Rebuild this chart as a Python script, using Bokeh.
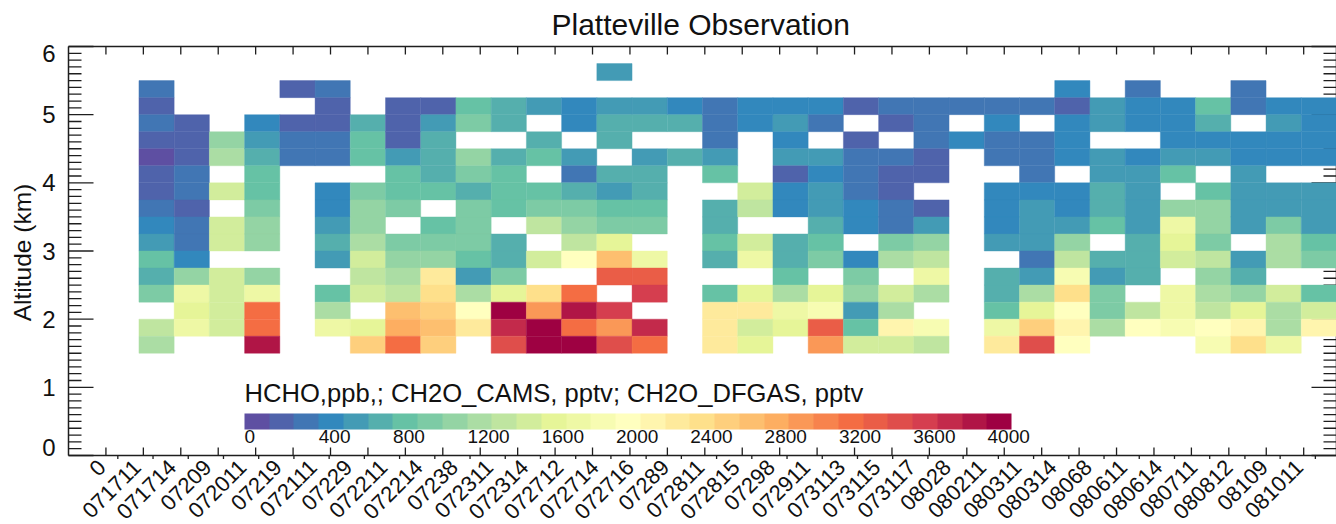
from bokeh.plotting import figure
from bokeh.models import (ColumnDataSource, LinearColorMapper, LinearAxis, FixedTicker, Range1d,
                          ColorBar, Label)
from bokeh.transform import transform
from bokeh.embed import file_html
from bokeh.resources import INLINE
import math

_ = None
TITLE = "Platteville Observation"
YLABEL = "Altitude (km)"
BAR_TITLE = "HCHO,ppb,; CH2O_CAMS, pptv; CH2O_DFGAS, pptv"
FONT = "Liberation Sans"
x_tick_labels = ["0", "071711", "071714", "07209", "072011", "07219", "072111", "07229", "072211", "072214",
                 "07238", "072311", "072314", "072712", "072714", "072716", "07289", "072811", "072815",
                 "07298", "072911", "073113", "073115", "073117", "08028", "080211", "080311", "080314",
                 "08068", "080611", "080614", "080711", "080812", "08109", "081011"]
bar_ticks = [0, 400, 800, 1200, 1600, 2000, 2400, 2800, 3200, 3600, 4000]
y_ticks = [0, 1, 2, 3, 4, 5, 6]
# lower edge of each altitude bin (km), top to bottom
alt_bins = [5.5, 5.25, 5.0, 4.75, 4.5, 4.25, 4.0, 3.75, 3.5, 3.25, 3.0, 2.75, 2.5, 2.25, 2.0, 1.75, 1.5]

# CH2O (pptv) per flight/time, top bin first
p_071711 = [_,320,190,320,190,60,190,190,320,450,580,840,710,970,_,1350,1230]
p_071714 = [_,_,_,190,190,190,320,320,190,320,320,450,1100,1740,1610,1740,_]
p_07209  = [_,_,_,_,1100,1230,_,1480,_,1480,1480,_,1480,1480,1480,1480,_]
p_072011 = [_,_,_,450,580,710,840,840,970,1100,1100,_,1100,1740,3160,3160,3810]
p_07219  = [_,190,_,190,320,320,_,_,_,_,_,_,_,_,_,_,_]
p_072111 = [_,320,190,190,320,320,_,450,450,580,710,580,_,840,1230,1740,_]
p_07229  = [_,_,_,710,840,840,_,970,1100,1100,1230,1480,1350,1480,_,1610,2520]
p_072211 = [_,_,190,190,190,580,840,840,970,_,970,1100,1230,1350,2650,2770,3160]
p_072214 = [_,_,190,580,710,710,710,840,_,840,970,1100,2260,2390,2520,2650,2520]
p_07238  = [_,_,840,970,_,1100,970,710,970,970,970,840,580,1230,2000,2260,_]
p_072311 = [_,_,710,710,_,710,840,840,840,_,710,710,970,1610,3940,3680,3420]
p_072314 = [_,_,580,_,710,840,_,840,970,1350,_,1480,_,2390,2900,3940,3940]
p_072712 = [_,_,450,450,_,580,320,710,970,1100,1350,2000,_,3160,3810,3160,3940]
p_072714 = [580,_,580,710,710,_,710,580,840,970,1610,2650,3290,_,3550,2900,3420]
p_072716 = [_,_,580,710,_,580,710,710,840,970,_,1740,3290,3550,_,3680,3160]
p_07289  = [_,_,450,710,_,710,_,_,_,_,_,_,_,_,_,_,_]
p_072811 = [_,_,320,320,320,580,840,_,710,710,840,710,_,840,2260,2260,2260]
p_072815 = [_,_,450,450,_,_,_,1480,1350,_,1480,1740,_,1610,2260,1480,1610]
p_07298  = [_,_,450,580,450,580,190,450,450,_,710,710,840,1230,1740,1610,_]
p_072911 = [_,_,450,320,_,580,450,580,580,710,840,970,_,1610,1870,3290,2900]
p_073113 = [_,_,190,_,190,320,320,320,450,450,_,450,970,1100,580,840,1480]
p_073115 = [_,_,320,190,_,320,190,190,320,320,970,1230,_,1480,1230,2130,1480]
p_073117 = [_,_,320,320,320,190,190,_,190,580,1100,1350,1740,1230,_,1870,1350]
p_08028  = [_,_,320,_,450,_,_,_,_,_,_,_,_,_,_,_,_]
p_080211 = [_,_,320,450,320,320,_,450,450,450,580,_,710,710,840,1740,2260]
p_080311 = [_,_,320,_,320,320,320,450,580,580,580,320,580,1230,1610,2520,3420]
p_080314 = [_,450,190,450,450,450,_,450,450,580,1100,1350,1870,2390,2000,2130,2000]
p_08068  = [_,_,580,580,_,580,580,710,710,840,_,710,580,970,970,1230,_]
p_080611 = [_,320,450,450,_,450,580,580,580,580,710,710,710,_,1350,2000,_]
p_080614 = [_,_,450,450,450,580,840,_,1100,1740,1610,1480,_,1740,1740,1870,_]
p_080711 = [_,_,840,710,450,580,_,840,1100,1100,970,1350,1100,1230,1350,2000,1870]
p_080812 = [_,320,320,_,450,450,580,580,580,580,_,580,710,1100,1610,2130,2390]
p_08109  = [_,_,450,580,450,450,_,580,580,970,1230,1230,_,1480,1230,1230,1740]
p_081011 = [_,_,450,450,450,450,_,580,580,580,840,970,_,840,1480,2130,_]

columns = [p_071711, p_071714, p_07209, p_072011, p_07219, p_072111, p_07229, p_072211, p_072214, p_07238,
           p_072311, p_072314, p_072712, p_072714, p_072716, p_07289, p_072811, p_072815, p_07298, p_072911,
           p_073113, p_073115, p_073117, p_08028, p_080211, p_080311, p_080314, p_08068, p_080611, p_080614,
           p_080711, p_080812, p_08109, p_081011]

palette = ["#5e4fa2", "#4f63ab", "#4176b4", "#3288bd", "#439bb5", "#55afad", "#66c2a5", "#7dcba5", "#94d4a4",
           "#abdda4", "#bfe5a0", "#d2ed9c", "#e6f598", "#eef8a5", "#f7fcb2", "#ffffbf", "#fff5ae", "#feea9c",
           "#fee08b", "#fecf7d", "#fdbf6f", "#fdae61", "#fa9857", "#f7834d", "#f46d43", "#ea5d47", "#df4e4b",
           "#d53e4f", "#c32a4b", "#b01546", "#9e0142"]

# box of the axes on the page, and the slightly larger drawing frame that lets the
# box's own lines and the short outer ticks show
BL, BR, BT, BB = 68, 1336, 46, 455
X0, X1 = -1.4, 34.6
Y0, Y1 = 0, 6
dx = (X1 - X0) / (BR - BL)
dy = (Y1 - Y0) / (BB - BT)
FL, FR, FT, FB = BL - 2, BR, BT - 2, BB + 5
px_x = lambda px: X0 + (px - BL) * dx
px_y = lambda py: Y1 - (py - BT) * dy
AXC = "#1e1e1e"

p = figure(width=1336, height=524, output_backend="svg", toolbar_location=None,
           x_range=Range1d(px_x(FL), px_x(FR)), y_range=Range1d(px_y(FB), px_y(FT)),
           x_axis_location=None, y_axis_location=None, tools="",
           frame_width=FR - FL, frame_height=FB - FT,
           min_border_left=FL, min_border_right=0, min_border_top=FT, min_border_bottom=0,
           outline_line_color=None,
           background_fill_color="white", border_fill_color="white")
p.grid.visible = False

left, right, bottom, top, val = [], [], [], [], []
for i, col in enumerate(columns):
    for a, v in zip(alt_bins, col):
        if v is None:
            continue
        left.append(i + 1 - 0.4)
        right.append(i + 1 + 0.6)
        bottom.append(a)
        top.append(a + 0.25)
        val.append(v)
src = ColumnDataSource(dict(left=left, right=right, bottom=bottom, top=top, val=val))
mapper = LinearColorMapper(palette=palette, low=0, high=4000)

minor = [k / 10 for k in range(0, 61) if k % 10]
TW = 1.3
def ticks(x0, x1, y0, y1, **kw):
    p.segment(x0=x0, x1=x1, y0=y0, y1=y1, line_color=AXC, line_width=kw.pop("w", TW), level="underlay", **kw)

n, m = len(y_ticks), len(minor)
# box lines
ticks([X0, X0], [X1, X1], [Y0, Y1], [Y0, Y1], w=1.5)
ticks([X0, X1], [X0, X1], [Y0, Y0], [Y1, Y1], w=1.5)
# left and right ticks
ticks([X0] * n, [X0 + 25 * dx] * n, y_ticks, y_ticks)
ticks([X0] * m, [X0 + 13 * dx] * m, minor, minor)
ticks([X1] * n, [X1 - 25 * dx] * n, y_ticks, y_ticks)
ticks([X1] * m, [X1 - 13 * dx] * m, minor, minor)
# top and bottom inner ticks have a spacing of their own
p.extra_x_ranges["tickx"] = Range1d((FL - BL) / 37.43, (FR - BL) / 37.43)
inner = list(range(1, 34))
k = len(inner)
ticks(inner, inner, [Y1] * k, [Y1 - 8 * dy] * k, x_range_name="tickx")
ticks(inner, inner, [Y0] * k, [Y0 + 8 * dy] * k, x_range_name="tickx")
# short outer ticks at the label positions
lab_idx = list(range(len(x_tick_labels)))
ticks(lab_idx, lab_idx, [Y0] * len(lab_idx), [Y0 - 3.5 * dy] * len(lab_idx))

p.quad(left="left", right="right", bottom="bottom", top="top", source=src,
       fill_color=transform("val", mapper), line_color=transform("val", mapper), line_width=0.4)

# y labels: the two end labels sit inside the box, as in the original
Y_END_LO, Y_END_HI = px_y(447), px_y(53)
yl = LinearAxis(ticker=FixedTicker(ticks=[Y_END_LO, 1, 2, 3, 4, 5, Y_END_HI]))
yl.major_label_overrides = {Y_END_LO: "0", Y_END_HI: "6"}
yl.axis_line_color = None
yl.major_tick_line_color = None
yl.minor_tick_line_color = None
yl.major_label_text_font = FONT
yl.major_label_text_font_size = "24px"
yl.major_label_text_color = "#111111"
yl.major_label_standoff = 5
yl.axis_label = YLABEL
yl.axis_label_text_font = FONT
yl.axis_label_text_font_size = "24.5px"
yl.axis_label_text_font_style = "normal"
yl.axis_label_text_color = "#111111"
yl.axis_label_standoff = 3
p.add_layout(yl, "left")

LABEL_SHIFT_PX = 16
p.extra_x_ranges["labelx"] = Range1d(px_x(FL) + LABEL_SHIFT_PX * dx, px_x(FR) + LABEL_SHIFT_PX * dx)
xl = LinearAxis(x_range_name="labelx", ticker=FixedTicker(ticks=lab_idx))
xl.major_label_overrides = {i: s for i, s in enumerate(x_tick_labels)}
xl.major_label_orientation = math.pi / 4
xl.major_label_text_font = FONT
xl.major_label_text_font_size = "22px"
xl.major_label_text_color = "#111111"
xl.major_label_standoff = -3
xl.axis_line_color = None
xl.major_tick_line_color = None
xl.minor_tick_line_color = None
p.add_layout(xl, "below")

p.title.text = TITLE
p.title.text_font = FONT
p.title.text_font_size = "30px"
p.title.text_font_style = "normal"
p.title.text_color = "#111111"
p.title.align = "left"
p.title.offset = 551 - FL
p.title.standoff = 7

cb = ColorBar(color_mapper=mapper, ticker=FixedTicker(ticks=[]), location=(244 - FL, FB - 429),
              orientation="horizontal", width=767, height=16, padding=0, margin=0,
              background_fill_color=None, border_line_color=None, bar_line_color=None,
              major_tick_line_color=None, minor_tick_line_color=None)
p.add_layout(cb)

def txt(s, px, py, size, align="left"):
    p.add_layout(Label(x=px_x(px), y=px_y(py), text=s, text_font=FONT, text_font_size=size,
                       text_color="#111111", text_align=align, text_baseline="middle"))

txt(BAR_TITLE, 244, 392.5, "25.6px")
for i, t in enumerate(bar_ticks):
    txt(str(t), 244 + i * 74.3, 436, "19px")

open("out.html", "w").write(file_html(p, INLINE))
